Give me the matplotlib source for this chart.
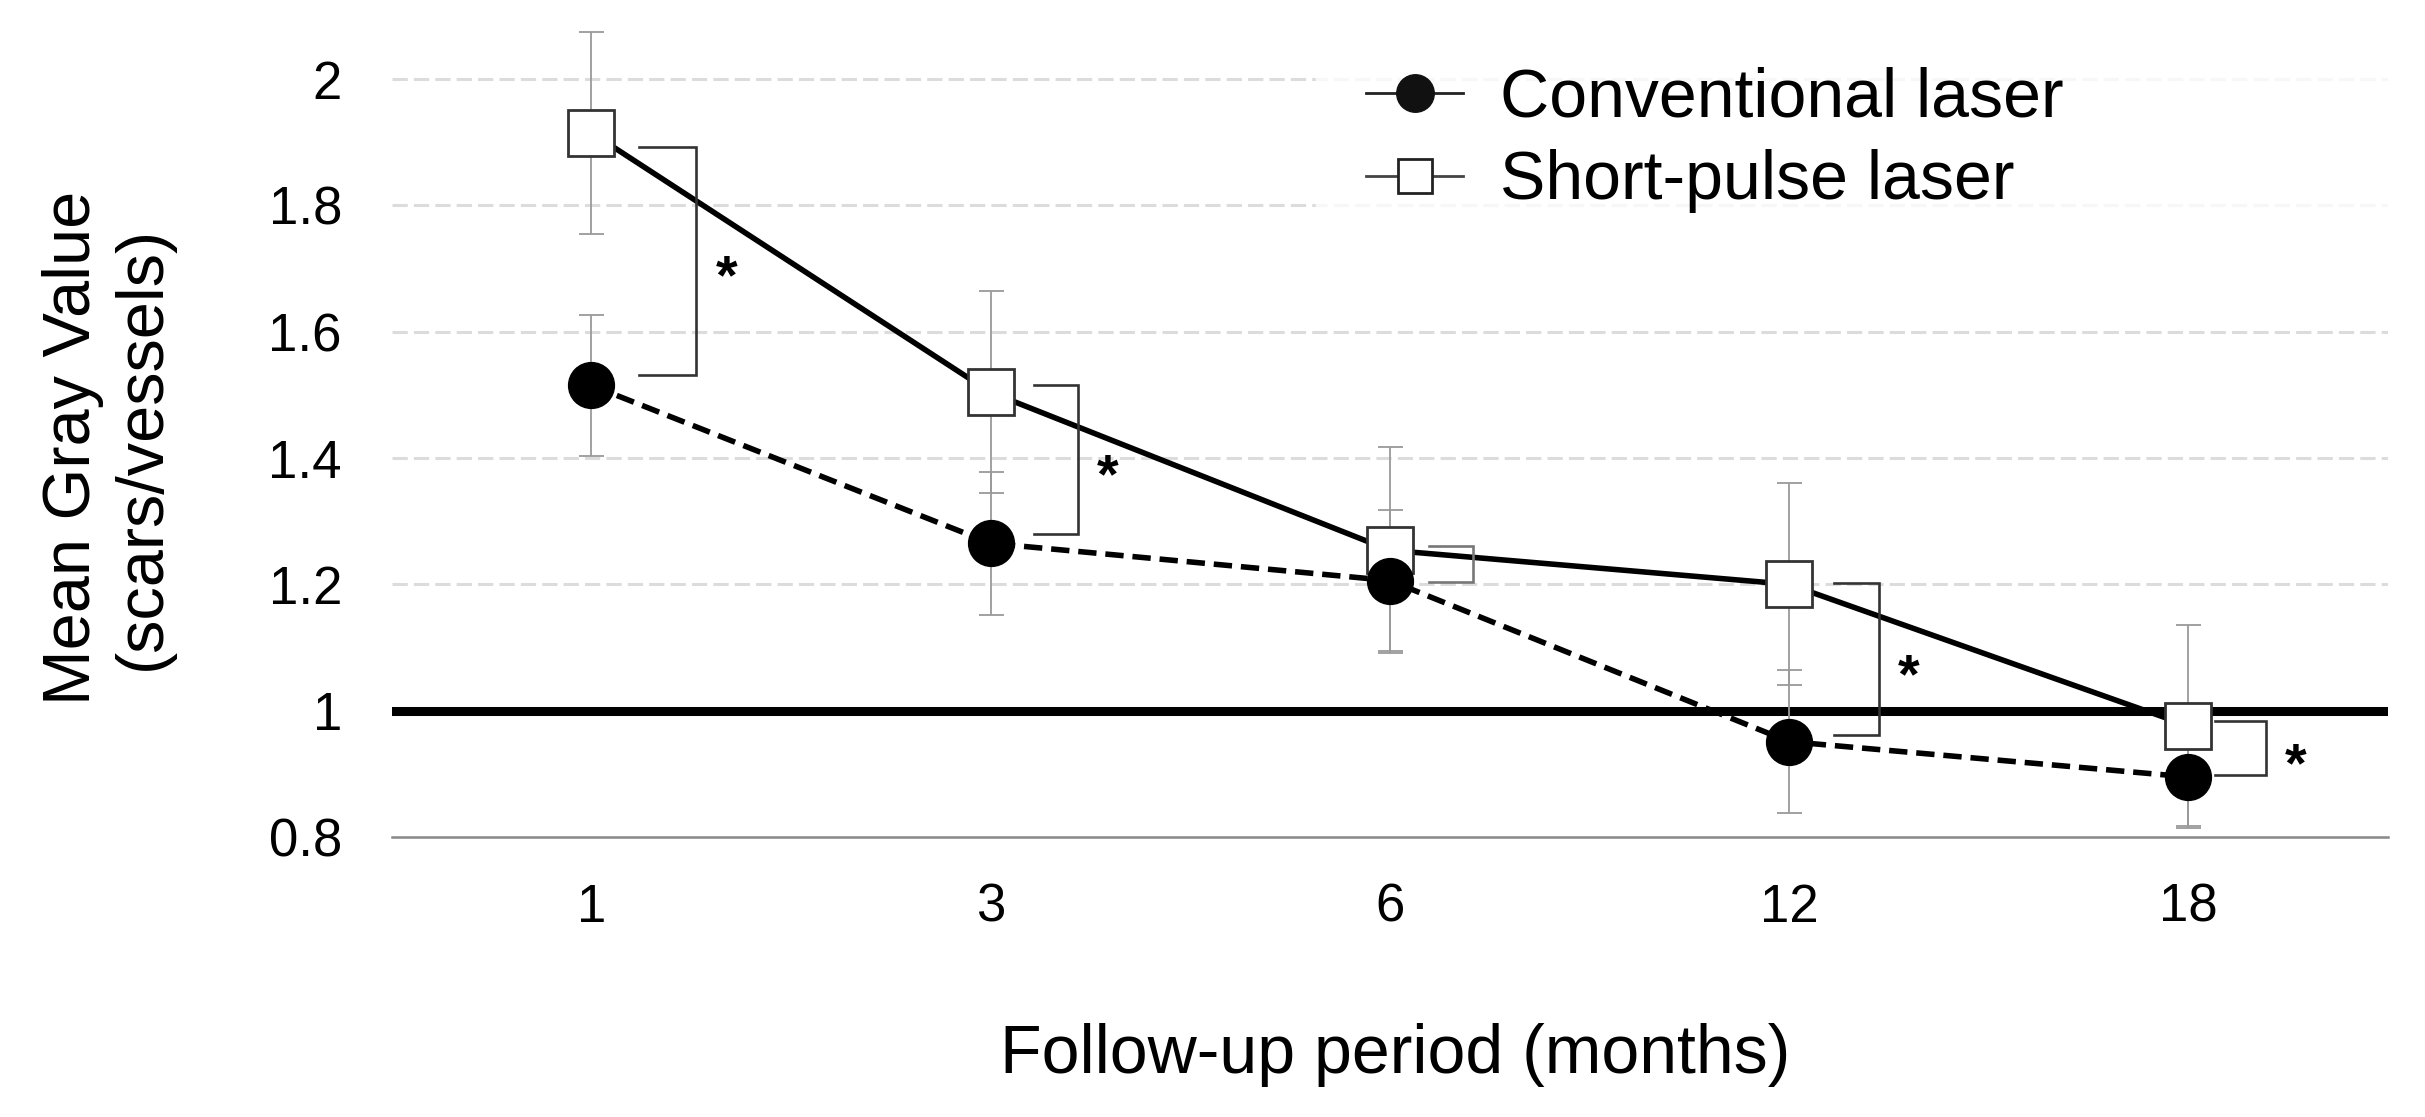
import matplotlib.pyplot as plt
from matplotlib.lines import Line2D

plt.rcParams['font.family'] = ['Liberation Sans', 'DejaVu Sans']

months = ['1', '3', '6', '12', '18']
conventional = [1.515, 1.265, 1.206, 0.951, 0.895]
conventional_err = [0.112, 0.113, 0.111, 0.113, 0.081]
short_pulse = [1.915, 1.504, 1.254, 1.200, 0.976]
short_pulse_err = [0.16, 0.16, 0.163, 0.16, 0.159]
yticks = [0.8, 1.0, 1.2, 1.4, 1.6, 1.8, 2.0]
ytick_labels = ['0.8', '1', '1.2', '1.4', '1.6', '1.8', '2']
# significance brackets between the two groups
bracket_top = [1.893, 1.516, 1.260, 1.202, 0.984]
bracket_bottom = [1.532, 1.280, 1.204, 0.962, 0.898]
significant = [True, True, False, True, True]

fig = plt.figure(figsize=(24.25, 11.17), dpi=100)
ax = fig.add_axes([0.1616, 0.2507, 0.8231, 0.735])
x = list(range(len(months)))

# grid
for v in yticks[2:]:
    ax.axhline(v, color='#dcdcdc', lw=2.2, ls=(0, (5, 2)), zorder=0)
ax.axhline(1.0, color='black', lw=6.5, zorder=1)

# error bars
ax.errorbar(x, short_pulse, yerr=short_pulse_err, fmt='none', ecolor='#9a9a9a',
            elinewidth=1.3, capsize=9, capthick=1.3, zorder=2)
ax.errorbar(x, conventional, yerr=conventional_err, fmt='none', ecolor='#9a9a9a',
            elinewidth=1.3, capsize=9, capthick=1.3, zorder=2)

ax.plot(x, short_pulse, color='black', lw=4, marker='s', markersize=33.5,
        markerfacecolor='white', markeredgecolor='#333333', markeredgewidth=2, zorder=3)
ax.plot(x, conventional, color='black', lw=4, ls=(0, (3.3, 1.6)), marker='o', markersize=33,
        markerfacecolor='black', markeredgecolor='black', zorder=4)

# brackets + asterisks
left_off = [0.12, 0.108, 0.098, 0.113, 0.068]
right_off = [0.263, 0.218, 0.208, 0.225, 0.195]
for i in x:
    xl = x[i] + left_off[i]
    xr = x[i] + right_off[i]
    col = '#333333' if significant[i] else '#777777'
    ax.plot([xl, xr, xr, xl], [bracket_top[i], bracket_top[i], bracket_bottom[i], bracket_bottom[i]],
            color=col, lw=1.9, zorder=3, solid_joinstyle='miter')
    if significant[i]:
        ax.text(xr + 0.075, (bracket_top[i] + bracket_bottom[i]) / 2 - 0.03, '*',
                fontsize=40, fontweight='bold', ha='center', va='center')

ax.set_xlim(-0.5, 4.5)
ax.set_ylim(0.8, 2.1)
ax.set_xticks(x)
ax.set_xticklabels(months, fontsize=38)
ax.set_yticks(yticks)
ax.set_yticklabels(ytick_labels, fontsize=38)
ax.tick_params(axis='both', length=0)
ax.tick_params(axis='y', pad=36)
ax.tick_params(axis='x', pad=33)
for s in ['top', 'right', 'left']:
    ax.spines[s].set_visible(False)
ax.spines['bottom'].set_color('#888888')
ax.spines['bottom'].set_linewidth(1.8)

handles = [
    Line2D([], [], color='#222222', lw=2, marker='o', markersize=27,
           markerfacecolor='#111111', markeredgecolor='#111111'),
    Line2D([], [], color='#444444', lw=2, marker='s', markersize=25,
           markerfacecolor='white', markeredgecolor='#222222', markeredgewidth=2),
]
leg = ax.legend(handles, ['Conventional laser', 'Short-pulse laser'], loc='upper left',
                bbox_to_anchor=(0.463, 1.0, 0.537, 0.0), mode='expand', fontsize=49,
                frameon=True, fancybox=False, handlelength=1.42, handletextpad=0.55,
                labelspacing=0.28, borderpad=0.74, borderaxespad=0.0)
leg.get_frame().set_facecolor('white')
leg.get_frame().set_edgecolor('white')
leg.set_zorder(5)

fig.text(0.0445, 1 - 448 / 1117, 'Mean Gray Value\n(scars/vessels)', rotation=90,
         fontsize=48, ha='center', va='center', linespacing=1.15)
fig.text(1395 / 2425, 0.0555, 'Follow-up period (months)', fontsize=49,
         ha='center', va='center')

fig.savefig('out.png', dpi=100)
